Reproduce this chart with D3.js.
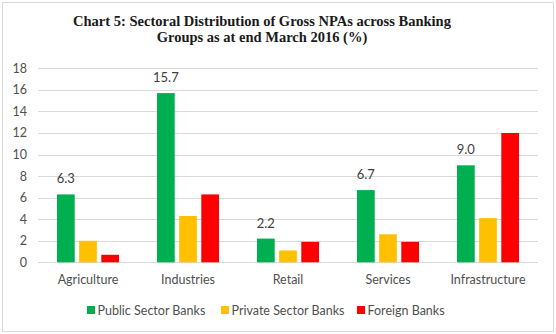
<!DOCTYPE html>
<html lang="en">
<head>
    <meta charset="UTF-8">
    <title>Chart 5: Sectoral Distribution of Gross NPAs</title>
    <script src="https://cdn.jsdelivr.net/npm/d3@7/dist/d3.min.js"></script>
    <style>
        body {
            margin: 0;
            background: #fff;
        }
        .grid line {
            stroke: #d9d9d9;
            stroke-width: 1;
        }
        .axis text, .legend text {
            font-family: Lato, 'Open Sans', sans-serif;
            font-size: 12.5px;
            fill: #505050;
        }
    </style>
</head>
<body>
<script>
    // data
    const sectors = ['Agriculture', 'Industries', 'Retail', 'Services', 'Infrastructure'];
    const groups = ['Public Sector Banks', 'Private Sector Banks', 'Foreign Banks'];
    const publicBanks = [6.3, 15.7, 2.2, 6.7, 9.0];
    const privateBanks = [2.0, 4.3, 1.1, 2.6, 4.1];
    const foreignBanks = [0.7, 6.3, 1.9, 1.9, 12.0];
    const yTicks = [0, 2, 4, 6, 8, 10, 12, 14, 16, 18];
    const colors = ['#00b050', '#ffc000', '#ff0000'];

    const series = [publicBanks, privateBanks, foreignBanks];

    const width = 556;
    const height = 334;
    const margin = { left: 38, right: 18, top: 68, bottom: 72 };

    let svg = d3.select('body')
        .append('svg')
        .attr('width', width)
        .attr('height', height);

    // outer frame
    svg.append('rect')
        .attr('x', 2.5)
        .attr('y', 2.5)
        .attr('width', width - 5)
        .attr('height', height - 5)
        .attr('fill', '#fff')
        .attr('stroke', '#d9d9d9');

    // title
    const title = svg.append('text')
        .attr('text-anchor', 'middle')
        .style('font-family', "'Liberation Serif', 'Times New Roman', serif")
        .style('font-weight', 'bold')
        .style('font-size', '14.5px')
        .style('fill', '#1a1a1a');
    title.append('tspan').attr('x', 262).attr('y', 26)
        .text('Chart 5: Sectoral Distribution of Gross NPAs across Banking');
    title.append('tspan').attr('x', 262).attr('y', 42)
        .text('Groups as at end March 2016 (%)');

    const x0 = d3.scaleBand()
        .domain(sectors)
        .range([margin.left, width - margin.right]);

    const x1 = d3.scaleBand()
        .domain(d3.range(groups.length))
        .range([x0.bandwidth() / 2 - 31, x0.bandwidth() / 2 + 31])
        .paddingInner(0.2);

    const y = d3.scaleLinear()
        .domain([0, 18])
        .range([height - margin.bottom + 0.3, margin.top + 0.3]);

    // gridlines
    svg.append('g')
        .attr('class', 'grid')
        .selectAll('line')
        .data(yTicks)
        .enter()
        .append('line')
        .attr('x1', margin.left)
        .attr('x2', width - margin.right)
        .attr('y1', d => Math.round(y(d)) + 0.5)
        .attr('y2', d => Math.round(y(d)) + 0.5);

    // y axis labels
    svg.append('g')
        .attr('class', 'axis')
        .selectAll('text')
        .data(yTicks)
        .enter()
        .append('text')
        .attr('x', 27)
        .attr('y', d => y(d) + 4.5)
        .attr('text-anchor', 'end')
        .text(d => d);

    // x axis labels
    svg.append('g')
        .attr('class', 'axis')
        .selectAll('text')
        .data(sectors)
        .enter()
        .append('text')
        .attr('x', d => x0(d) + x0.bandwidth() / 2)
        .attr('y', 284)
        .attr('text-anchor', 'middle')
        .text(d => d);

    // bars
    let group = svg.append('g')
        .selectAll('g')
        .data(sectors)
        .enter()
        .append('g')
        .attr('transform', d => 'translate(' + x0(d) + ',0)');

    group.selectAll('rect')
        .data((d, i) => series.map((s, k) => ({ k: k, v: s[i] })))
        .enter()
        .append('rect')
        .attr('x', d => x1(d.k))
        .attr('width', x1.bandwidth())
        .attr('y', d => y(d.v))
        .attr('height', d => y(0) - y(d.v))
        .attr('fill', d => colors[d.k]);

    // data labels on public sector bars
    svg.append('g')
        .selectAll('text')
        .data(sectors)
        .enter()
        .append('text')
        .attr('x', (d, i) => x0(d) + x1(0) + x1.bandwidth() / 2)
        .attr('y', (d, i) => y(publicBanks[i]) - 11)
        .attr('text-anchor', 'middle')
        .style('font-family', "Lato, 'Open Sans', sans-serif")
        .style('font-size', '13px')
        .style('fill', '#404040')
        .text((d, i) => publicBanks[i].toFixed(1));

    // legend
    const legendX = [87, 221, 357];
    let legend = svg.append('g')
        .attr('class', 'legend')
        .selectAll('g')
        .data(groups)
        .enter()
        .append('g')
        .attr('transform', (d, i) => 'translate(' + legendX[i] + ',306)');

    legend.append('rect')
        .attr('width', 8)
        .attr('height', 8)
        .attr('fill', (d, i) => colors[i]);

    legend.append('text')
        .attr('x', 10.5)
        .attr('y', 8.5)
        .text(d => d);
</script>
</body>
</html>
